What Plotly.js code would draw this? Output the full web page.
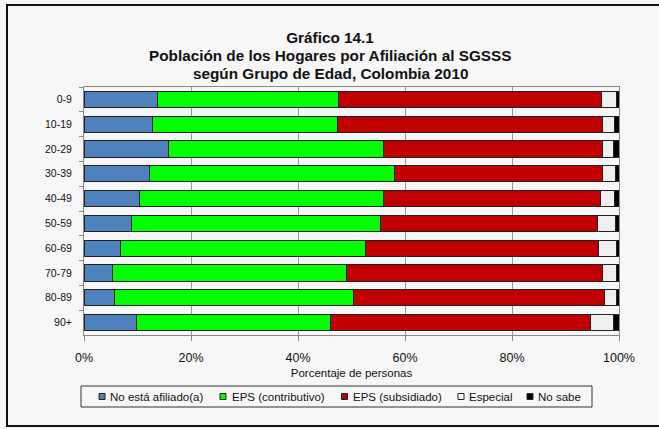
<!DOCTYPE html>
<html>
<head>
<meta charset="utf-8">
<script src="https://cdn.plot.ly/plotly-3.0.1.min.js"></script>
<style>
html,body{margin:0;padding:0;background:#f7f7f7;}
#wrap{position:relative;width:659px;height:429px;overflow:hidden;}
#chart{width:659px;height:429px;}
#frame{position:absolute;left:6px;top:4px;width:670px;height:423px;border:2px solid #111;pointer-events:none;box-sizing:border-box;}
</style>
</head>
<body>
<div id="wrap"><div id="chart"></div><div id="frame"></div></div>
<script>
const categories = ["0-9","10-19","20-29","30-39","40-49","50-59","60-69","70-79","80-89","90+"];
const noAfiliado   = [13.7, 12.8, 15.8, 12.2, 10.4, 8.9, 6.8, 5.4, 5.7, 9.8];
const contributivo = [33.9, 34.5, 40.2, 45.8, 45.5, 46.6, 45.9, 43.7, 44.6, 36.3];
const subsidiado   = [49.2, 49.7, 40.9, 39.0, 40.6, 40.5, 43.4, 47.8, 46.9, 48.6];
const especial     = [2.7, 2.2, 2.0, 2.3, 2.7, 3.4, 3.4, 2.6, 2.3, 4.3];
const noSabe       = [0.5, 0.8, 1.1, 0.7, 0.8, 0.6, 0.5, 0.5, 0.5, 1.0];
const seriesNames  = ["No está afiliado(a)", "EPS (contributivo)", "EPS (subsidiado)", "Especial", "No sabe"];
const seriesColors = ["#4f81bd", "#00ff00", "#c00000", "#eeeeee", "#000000"];
const seriesData   = [noAfiliado, contributivo, subsidiado, especial, noSabe];
const xTickVals = [0, 20, 40, 60, 80, 100];
const xTickText = ["0%", "20%", "40%", "60%", "80%", "100%"];
const titleLines = ["Gráfico 14.1", "Población de los Hogares por Afiliación al SGSSS", "según Grupo de Edad, Colombia 2010"];

const W = 659, H = 429;
const M = {l: 84, r: 40, t: 87, b: 94};
const PW = W - M.l - M.r, PH = H - M.t - M.b;
const px2x = p => (p - M.l) / PW;
const px2y = p => (H - M.b - p) / PH;

const traces = seriesData.map((vals, i) => ({
  type: "bar",
  orientation: "h",
  name: seriesNames[i],
  y: categories,
  x: vals,
  marker: {color: seriesColors[i], line: {color: "#222", width: 1}},
  hoverinfo: "x+y+name"
}));

// manual legend (compact, Excel style)
const legSymX = [102, 223, 344.5, 461, 530];
const legTxtX = [107.5, 229.5, 350.5, 467, 536];
const legY = 396.5;
const shapes = [{
  type: "rect", xref: "paper", yref: "paper",
  x0: px2x(81), x1: px2x(592), y0: px2y(386), y1: px2y(407),
  line: {color: "#333", width: 1}, fillcolor: "rgba(0,0,0,0)"
}];
const annotations = [];
seriesNames.forEach((n, i) => {
  shapes.push({
    type: "rect", xref: "paper", yref: "paper",
    x0: px2x(legSymX[i] - 3), x1: px2x(legSymX[i] + 3),
    y0: px2y(legY - 3), y1: px2y(legY + 3),
    line: {color: "#222", width: 1}, fillcolor: seriesColors[i] === "#eeeeee" ? "#ffffff" : seriesColors[i]
  });
  annotations.push({
    xref: "paper", yref: "paper", x: px2x(legTxtX[i]), y: px2y(legY),
    xanchor: "left", yanchor: "middle", showarrow: false,
    text: n, font: {size: 11.5, color: "#111"}
  });
});
// title lines 2 and 3 (tight Excel line spacing)
[[titleLines[1], 55.5], [titleLines[2], 73]].forEach(([t, py]) => {
  annotations.push({
    xref: "paper", yref: "paper", x: px2x(330), y: px2y(py),
    xanchor: "center", yanchor: "middle", showarrow: false,
    text: "<b>" + t + "</b>", font: {size: 15.3, color: "#111"}
  });
});

const layout = {
  width: W, height: H,
  barmode: "stack",
  bargap: 0.35,
  paper_bgcolor: "#f7f7f7",
  plot_bgcolor: "#f7f7f7",
  margin: M,
  showlegend: false,
  font: {family: "Liberation Sans, Arial, sans-serif", color: "#111"},
  title: {
    text: "<b>" + titleLines[0] + "</b>",
    font: {size: 15.3, family: "Liberation Sans, Arial, sans-serif", color: "#111"},
    x: px2x(330), xref: "paper", xanchor: "center",
    y: 1 - 38 / H, yref: "container", yanchor: "middle"
  },
  xaxis: {
    range: [0, 100],
    tickvals: xTickVals,
    ticktext: xTickText,
    tickfont: {size: 12.5},
    ticks: "outside", ticklen: 5, tickcolor: "#888",
    ticklabelstandoff: 6,
    showgrid: true, gridcolor: "#999", gridwidth: 1,
    showline: true, linecolor: "#888", linewidth: 1, mirror: true,
    zeroline: false,
    title: {text: "Porcentaje de personas", font: {size: 11.5}, standoff: 4}
  },
  yaxis: {
    autorange: "reversed",
    tickfont: {size: 10.5},
    ticks: "outside", ticklen: 4, tickcolor: "#888",
    tickson: "boundaries",
    showline: true, linecolor: "#888", linewidth: 1, mirror: true,
    showgrid: false,
    ticklabelstandoff: 9
  },
  shapes: shapes,
  annotations: annotations
};

Plotly.newPlot("chart", traces, layout, {displayModeBar: false});
</script>
</body>
</html>
